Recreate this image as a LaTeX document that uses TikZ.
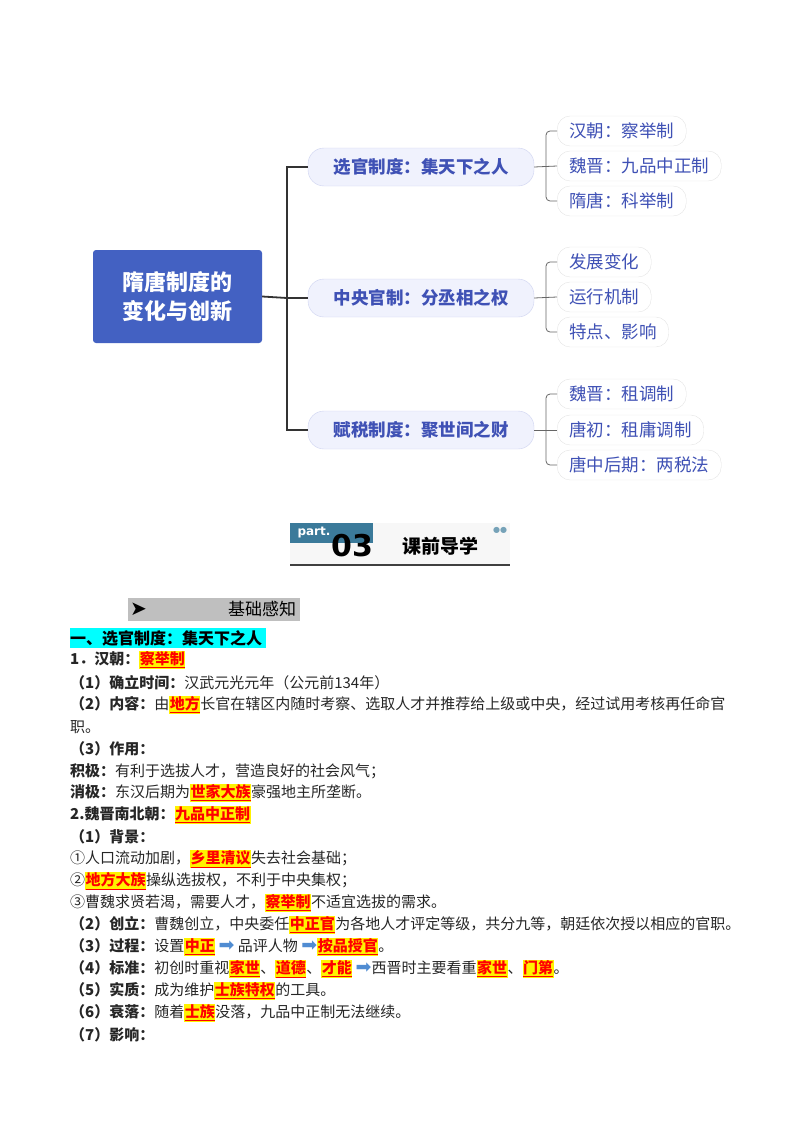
\documentclass[tikz,border=0pt]{standalone}
\usepackage{fontspec}
\usepackage{xcolor}
\usetikzlibrary{positioning}
\setmainfont{Liberation Serif}
\newfontfamily\cjk{Noto Sans CJK SC}
\newfontfamily\dejavu{DejaVu Sans}
\definecolor{rootblue}{RGB}{67,97,194}
\definecolor{midfill}{RGB}{240,242,253}
\definecolor{midline}{RGB}{205,210,240}
\definecolor{mapink}{RGB}{63,81,181}
\definecolor{partblue}{RGB}{59,122,154}
\definecolor{arrowblue}{RGB}{80,140,210}
\definecolor{headcyan}{RGB}{0,255,255}
\newcommand{\keyw}[1]{{\setlength{\fboxsep}{0.5pt}\colorbox{yellow}{\textcolor{red}{\bfseries\underline{#1}}}}}
\newcommand{\blar}{{\dejavu\fontsize{19}{15}\selectfont\textcolor{arrowblue}{➡}}}
\begin{document}
\begin{tikzpicture}[x=1pt, y=-1pt,
    root/.style={rectangle, fill=rootblue, rounded corners=3pt, minimum width=169pt, minimum height=93pt, align=center, text=white, font=\cjk\fontsize{22}{29}\selectfont\bfseries},
    mid/.style={rectangle, draw=midline, fill=midfill, rounded corners=16pt, minimum width=226pt, minimum height=38pt, text=mapink, font=\cjk\fontsize{17.5}{17}\selectfont\bfseries},
    leaf/.style={rectangle, draw=black!10, fill=white, rounded corners=13pt, minimum height=30pt, inner xsep=12pt, anchor=west, text=mapink, font=\cjk\fontsize{17.5}{17}\selectfont},
    line/.style={anchor=west, inner sep=0pt, font=\cjk\fontsize{15}{15}\selectfont, text=black!85},
    trunk/.style={draw=black!80, line width=1.8pt},
    twig/.style={draw=black!60, line width=0.8pt, rounded corners=4pt}
]
    \useasboundingbox (0,0) rectangle (800,1132);
    % mind map
    \node[root] (root) at (177.5,296.5) {隋唐制度的\\变化与创新};
    \node[mid] (xg) at (421,167) {选官制度：集天下之人};
    \node[mid] (zy) at (421,298) {中央官制：分丞相之权};
    \node[mid] (fs) at (421,430) {赋税制度：聚世间之财};
    \coordinate (tk) at (287,298);
    \draw[trunk] (root.east) -- (tk);
    \draw[trunk] (xg.west) -| (tk) |- (fs.west);
    \draw[trunk] (tk) -- (zy.west);

    \node[leaf] (xg1) at (557,131) {汉朝：察举制};
    \node[leaf] (xg2) at (557,166) {魏晋：九品中正制};
    \node[leaf] (xg3) at (557,201) {隋唐：科举制};
    \node[leaf] (zy1) at (557,262) {发展变化};
    \node[leaf] (zy2) at (557,297) {运行机制};
    \node[leaf] (zy3) at (557,332) {特点、影响};
    \node[leaf] (fs1) at (557,394) {魏晋：租调制};
    \node[leaf] (fs2) at (557,430) {唐初：租庸调制};
    \node[leaf] (fs3) at (557,465) {唐中后期：两税法};
    \foreach \m in {xg,zy,fs}{
        \draw[twig] (\m.east) -- (\m2.west);
        \draw[twig] (\m1.west) -- ++(-11,0) |- (\m3.west);
    }

    % part banner
    \fill[black!3] (290,523) rectangle (510,565);
    \fill[partblue] (290,523) rectangle (373,543);
    \node[anchor=west, text=white, font=\fontspec{DejaVu Sans}\fontsize{12}{12}\selectfont\bfseries] (pt) at (294,533) {part.};
    \node[font=\fontspec{DejaVu Sans}\fontsize{30}{30}\selectfont\bfseries] (num) at (352,546) {03};
    \node[font=\cjk\fontsize{19}{19}\selectfont\bfseries] (kq) at (440,546) {课前导学};
    \draw[black!75, line width=2pt] (290,565) -- (510,565);
    \node[text=partblue!70, font=\dejavu\fontsize{8}{8}\selectfont] (dots) at (500,530) {●●};

    % heading bar
    \fill[black!25] (128,598) rectangle (300,621);
    \node[anchor=west, inner sep=0pt, font=\dejavu\fontsize{20}{20}\selectfont] (arr) at (130,609) {➤};
    \node[anchor=west, inner sep=0pt, font=\cjk\fontsize{17}{17}\selectfont] (jc) at (228,609) {基础感知};

    % body text
    \fill[headcyan] (70,628) rectangle (266,648);
    \node[line, font=\cjk\fontsize{16}{16}\selectfont\bfseries, text=black] (h1) at (70,638) {一、选官制度：集天下之人};
    \node[line] (a1) at (70,660) {\textbf{1．汉朝：}\keyw{察举制}};
    \node[line] (a2) at (70,683) {\textbf{（1）确立时间：}汉武元光元年（公元前134年）};
    \node[line] (a3) at (70,705) {\textbf{（2）内容：}由\keyw{地方}长官在辖区内随时考察、选取人才并推荐给上级或中央，经过试用考核再任命官};
    \node[line] (a4) at (70,727) {职。};
    \node[line] (a5) at (70,749) {\textbf{（3）作用：}};
    \node[line] (a6) at (70,771) {\textbf{积极：}有利于选拔人才，营造良好的社会风气；};
    \node[line] (a7) at (70,793) {\textbf{消极：}东汉后期为\keyw{世家大族}豪强地主所垄断。};
    \node[line] (b1) at (70,815) {\textbf{2.魏晋南北朝：}\keyw{九品中正制}};
    \node[line] (b2) at (70,837) {\textbf{（1）背景：}};
    \node[line] (b3) at (70,859) {①人口流动加剧，\keyw{乡里清议}失去社会基础；};
    \node[line] (b4) at (70,881) {②\keyw{地方大族}操纵选拔权，不利于中央集权；};
    \node[line] (b5) at (70,903) {③曹魏求贤若渴，需要人才，\keyw{察举制}不适宜选拔的需求。};
    \node[line] (b6) at (70,925) {\textbf{（2）创立：}曹魏创立，中央委任\keyw{中正官}为各地人才评定等级，共分九等，朝廷依次授以相应的官职。};
    \node[line] (b7) at (70,947) {\textbf{（3）过程：}设置\keyw{中正}\ \blar\ 品评人物 \blar\keyw{按品授官}。};
    \node[line] (b8) at (70,969) {\textbf{（4）标准：}初创时重视\keyw{家世}、\keyw{道德}、\keyw{才能}\ \blar 西晋时主要看重\keyw{家世}、\keyw{门第}。};
    \node[line] (b9) at (70,991) {\textbf{（5）实质：}成为维护\keyw{士族特权}的工具。};
    \node[line] (b10) at (70,1013) {\textbf{（6）衰落：}随着\keyw{士族}没落，九品中正制无法继续。};
    \node[line] (b11) at (70,1035) {\textbf{（7）影响：}};
\end{tikzpicture}
\end{document}
